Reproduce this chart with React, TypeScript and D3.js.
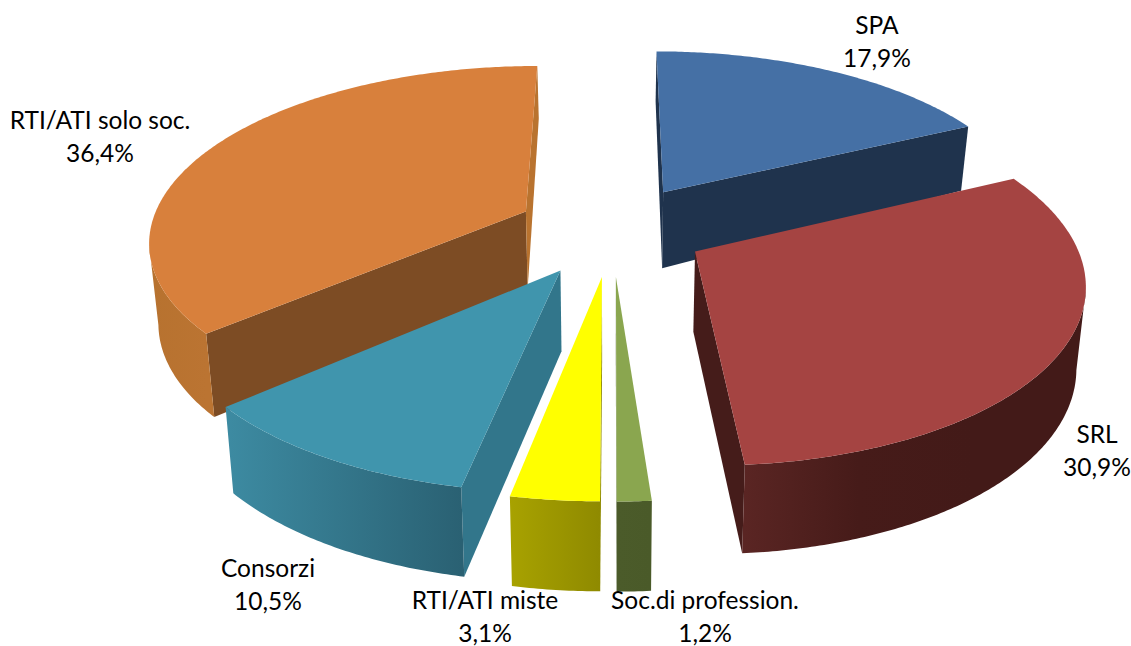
import React from "react";
import * as d3 from "d3";

// ---- data
const categories = ["SPA", "SRL", "Soc.di profession.", "RTI/ATI miste", "Consorzi", "RTI/ATI solo soc."];
const values = [17.9, 30.9, 1.2, 3.1, 10.5, 36.4];
const valueLabels = ["17,9%", "30,9%", "1,2%", "3,1%", "10,5%", "36,4%"];

// ---- styles
const topColors = ["#4570a5", "#a54442", "#8aa64f", "#ffff00", "#4095ad", "#d8803c"];
const startFaceColors = ["#1f334d", "#451c1a", "#4b5b2a", "#8f8a00", "#32768b", "#7d4c24"];
const endFaceColors = ["#1f334d", "#451c1a", "#4b5b2a", "#8f8a00", "#32768b", "#b9732f"];
const wallStops = [
  ["#1f334d", "#1f334d"],
  ["#5a2523", "#461b19", "#431a18", "#431a18"],
  ["#4b5b2a", "#4a5a29"],
  ["#a8a200", "#8f8a00"],
  ["#3d8ba2", "#2a6173"],
  ["#b7722f", "#bb7432"],
];
const explodes = [95, 90, 95, 95, 95, 92];
const labelCenters = [
  [877, 25],
  [1097, 434],
  [705, 600],
  [485, 600],
  [268, 568],
  [100, 120],
];
const LINE_GAP = 33;
const drawOrder = [0, 5, 1, 4, 3, 2];

// ---- projection
const CX = 612;
const CY = 229.5;
const RADIUS = 360;
const SQUASH = 0.481;
const STRETCH = 1.045;
const PERSPECTIVE = 0.00043;
const BOTTOM_CONVERGE = 0.98;
const depthAt = d3.scaleLinear().domain([126, 190, 250, 500]).range([64, 76, 80, 90]);

type P = [number, number];
function project(X: number, Y: number): P {
  const s = 1 / (1 - PERSPECTIVE * Y);
  return [CX + STRETCH * X * s, CY + SQUASH * Y * s];
}
function lower(p: P): P {
  return [CX + (p[0] - CX) * BOTTOM_CONVERGE, p[1] + depthAt(p[1])];
}

const arcs = d3.pie<number>().sort(null).startAngle(0).endAngle(2 * Math.PI)(values);
const pathOf = d3.line<P>();
const closed = (pts: P[]) => pathOf(pts) + "Z";

function build(i: number) {
  const a = arcs[i];
  const mid = (a.startAngle + a.endAngle) / 2;
  const ax = explodes[i] * Math.sin(mid);
  const ay = -explodes[i] * Math.cos(mid);
  const apex = project(ax, ay);
  const n = Math.max(8, Math.ceil((a.endAngle - a.startAngle) / 0.01));
  const rim: P[] = d3.range(n + 1).map((k) => {
    const t = a.startAngle + ((a.endAngle - a.startAngle) * k) / n;
    return project(ax + RADIUS * Math.sin(t), ay - RADIUS * Math.cos(t));
  });
  const top: P[] = [apex, ...rim];
  const visibleWall: P[] = rim.filter((p, k) => {
    const q = rim[Math.min(k + 1, n)];
    const o = rim[Math.max(k - 1, 0)];
    return q[0] - o[0] < 0;
  });
  const startFace: P[] = [apex, rim[0], lower(rim[0]), lower(apex)];
  const endFace: P[] = [apex, rim[n], lower(rim[n]), lower(apex)];
  const cross = (f: P[]) =>
    (f[1][0] - f[0][0]) * (f[2][1] - f[1][1]) - (f[1][1] - f[0][1]) * (f[2][0] - f[1][0]);
  return {
    top,
    wall: visibleWall,
    startFace: cross(startFace) < 0 ? startFace : null,
    endFace: cross(endFace) > 0 ? endFace : null,
  };
}

export default function App() {
  return (
    <svg
      width={1131}
      height={646}
      style={{ position: "fixed", left: 0, top: 0, display: "block", background: "#fff" }}
    >
      <defs>
        {drawOrder.map((i) => {
          const { wall } = build(i);
          const xs = d3.extent(wall, (d) => d[0]) as [number, number];
          const stops = wallStops[i];
          return (
            <linearGradient
              key={i}
              id={`wall${i}`}
              gradientUnits="userSpaceOnUse"
              x1={xs[0] ?? 0}
              x2={xs[1] ?? 1}
              y1={0}
              y2={0}
            >
              {stops.map((c, k) => (
                <stop key={k} offset={k / (stops.length - 1)} stopColor={c} />
              ))}
            </linearGradient>
          );
        })}
      </defs>
      {drawOrder.map((i) => {
        const s = build(i);
        return (
          <g key={i}>
            {s.startFace && <path d={closed(s.startFace)} fill={startFaceColors[i]} />}
            {s.endFace && <path d={closed(s.endFace)} fill={endFaceColors[i]} />}
            {s.wall.length > 1 && (
              <path
                d={closed([...s.wall, ...s.wall.slice().reverse().map(lower)])}
                fill={`url(#wall${i})`}
              />
            )}
            <path d={closed(s.top)} fill={topColors[i]} />
          </g>
        );
      })}
      <g fontFamily="Lato, 'Open Sans', sans-serif" fontSize={24.5} fill="#000" textAnchor="middle">
        {categories.map((c, i) => (
          <g key={c}>
            <text x={labelCenters[i][0]} y={labelCenters[i][1]} dy="0.35em">
              {c}
            </text>
            <text x={labelCenters[i][0]} y={labelCenters[i][1] + LINE_GAP} dy="0.35em">
              {valueLabels[i]}
            </text>
          </g>
        ))}
      </g>
    </svg>
  );
}
